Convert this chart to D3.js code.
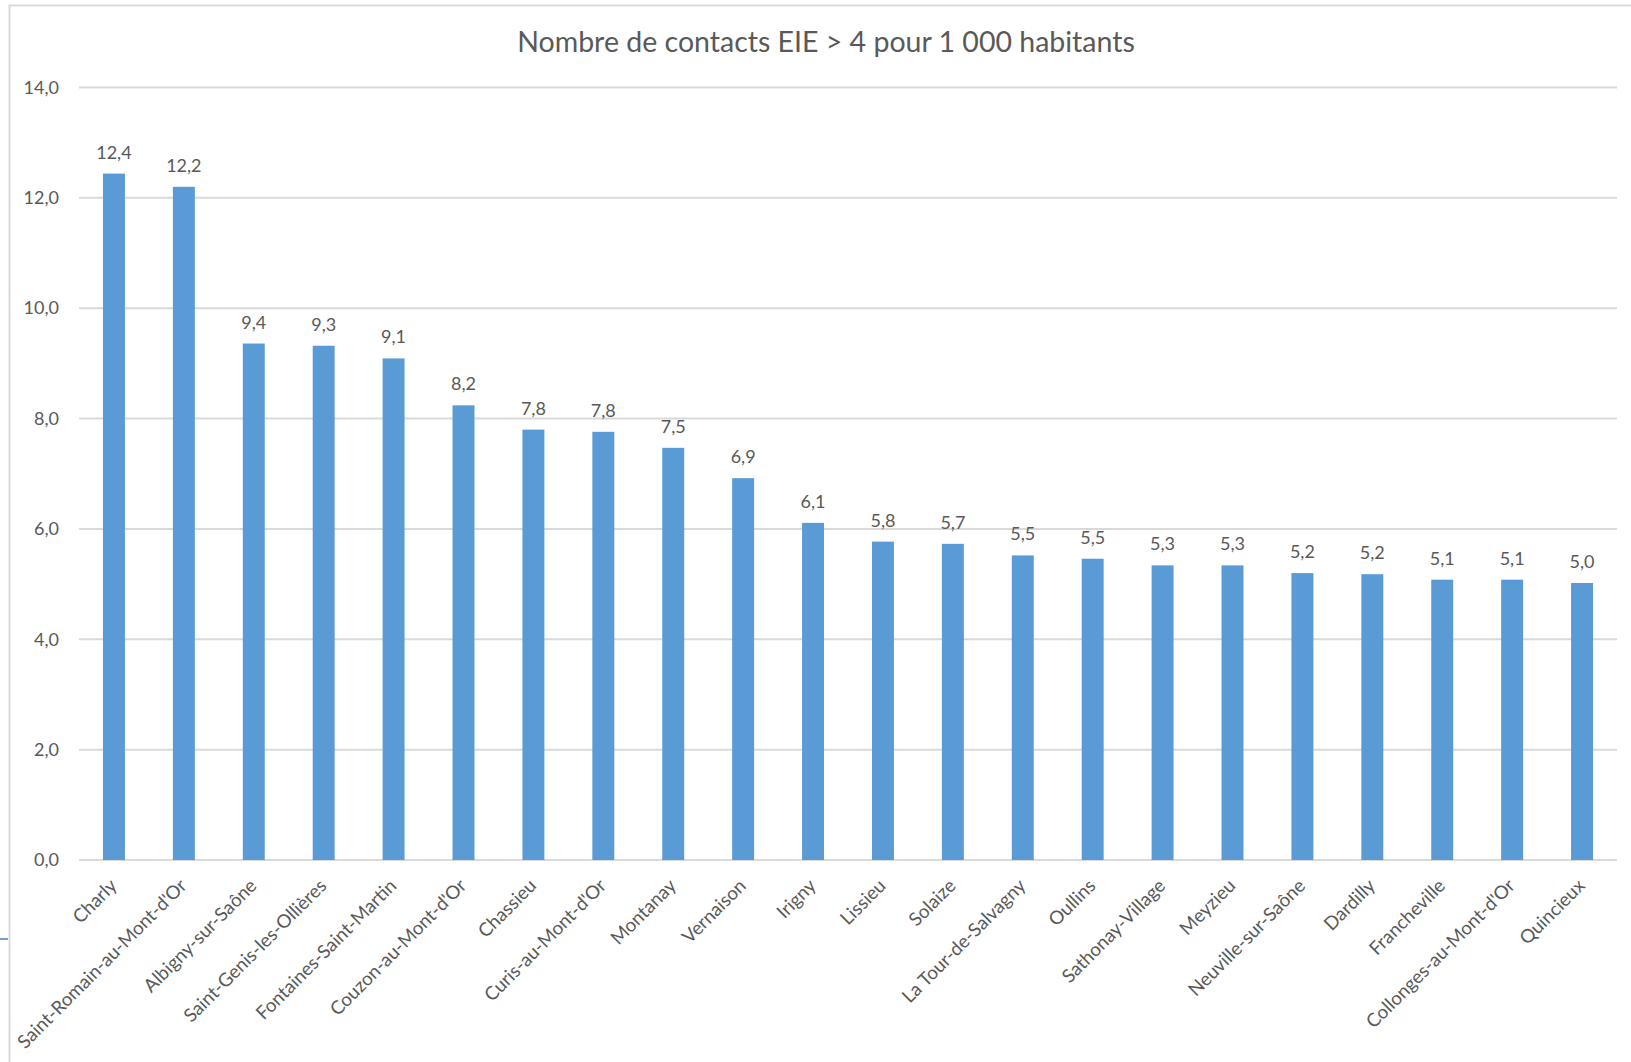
<!DOCTYPE html>
<html>
<head>
	<meta charset="utf-8">
	<script src="https://cdn.jsdelivr.net/npm/d3@7"></script>
<style type="text/css">
body { margin: 0; background: #fff; }
svg text { font-family: Lato, "Open Sans", sans-serif; fill: #595959; }
.grid line { stroke: #d9d9d9; stroke-width: 2; }
.bar { fill: #5b9bd5; }
</style>
</head>
<body>
<div id=chart></div>

<script>

// data
var communes = ["Charly", "Saint-Romain-au-Mont-d'Or", "Albigny-sur-Saône", "Saint-Genis-les-Ollières",
	"Fontaines-Saint-Martin", "Couzon-au-Mont-d'Or", "Chassieu", "Curis-au-Mont-d'Or", "Montanay",
	"Vernaison", "Irigny", "Lissieu", "Solaize", "La Tour-de-Salvagny", "Oullins", "Sathonay-Village",
	"Meyzieu", "Neuville-sur-Saône", "Dardilly", "Francheville", "Collonges-au-Mont-d'Or", "Quincieux"];
var valeurs = [12.44, 12.20, 9.36, 9.32, 9.09, 8.24, 7.80, 7.76, 7.47, 6.92, 6.11, 5.77, 5.73,
	5.52, 5.46, 5.34, 5.34, 5.20, 5.18, 5.08, 5.08, 5.02];
var yTicks = [0, 2, 4, 6, 8, 10, 12, 14];
var titre = "Nombre de contacts EIE > 4 pour 1 000 habitants";

var W = 1631, H = 1062;
var plot = {left: 79, right: 1617, top: 87.5, bottom: 860};

var fmt = function(v) { return d3.format(".1f")(v).replace(".", ","); };

var svg = d3.select("#chart").append("svg")
	.attr("width", W)
	.attr("height", H);

// chart area border (only top and left edges are in view)
svg.append("path")
	.attr("d", "M9.5," + H + "V5.5H" + W)
	.attr("fill", "none")
	.attr("stroke", "#d9d9d9")
	.attr("stroke-width", 2);

// small stray line at the left edge
svg.append("line")
	.attr("x1", 0).attr("x2", 8)
	.attr("y1", 939).attr("y2", 939)
	.attr("stroke", "#4a7ebb")
	.attr("stroke-width", 1.5);

var x = d3.scaleBand()
	.domain(communes)
	.range([plot.left, plot.right])
	.paddingInner(0.686)
	.paddingOuter(0.343);

var y = d3.scaleLinear()
	.domain([0, 14])
	.range([plot.bottom, plot.top]);

// gridlines
svg.append("g")
	.attr("class", "grid")
	.selectAll("line")
	.data(yTicks)
	.enter().append("line")
	.attr("x1", plot.left).attr("x2", plot.right)
	.attr("y1", function(d) { return y(d); })
	.attr("y2", function(d) { return y(d); });

// y axis labels
var yAxis = svg.append("g")
	.attr("transform", "translate(" + plot.left + ",0)")
	.call(d3.axisLeft(y).tickValues(yTicks).tickFormat(fmt).tickSize(0).tickPadding(20));
yAxis.select(".domain").remove();
yAxis.selectAll("text")
	.style("font-size", "18px")
	.attr("fill", null);

// bars
svg.selectAll("rect.bar")
	.data(valeurs)
	.enter().append("rect")
	.attr("class", "bar")
	.attr("x", function(d, i) { return x(communes[i]); })
	.attr("width", x.bandwidth())
	.attr("y", function(d) { return y(d); })
	.attr("height", function(d) { return y(0) - y(d); });

// value labels
svg.selectAll("text.val")
	.data(valeurs)
	.enter().append("text")
	.attr("class", "val")
	.attr("x", function(d, i) { return x(communes[i]) + x.bandwidth() / 2; })
	.attr("y", function(d) { return y(d) - 15; })
	.attr("text-anchor", "middle")
	.style("font-size", "18px")
	.text(fmt);

// x axis labels, rotated
var xAxis = svg.append("g")
	.attr("transform", "translate(0," + plot.bottom + ")")
	.call(d3.axisBottom(x).tickSize(0).tickPadding(0));
xAxis.select(".domain").remove();
xAxis.selectAll("text")
	.attr("fill", null)
	.attr("dy", null)
	.attr("y", 0)
	.attr("text-anchor", "end")
	.attr("transform", "translate(4,27) rotate(-45)")
	.style("font-size", "18.7px");

// title
svg.append("text")
	.attr("x", 826)
	.attr("y", 52)
	.attr("text-anchor", "middle")
	.style("font-size", "28.5px")
	.text(titre);

</script>
</body>
</html>
